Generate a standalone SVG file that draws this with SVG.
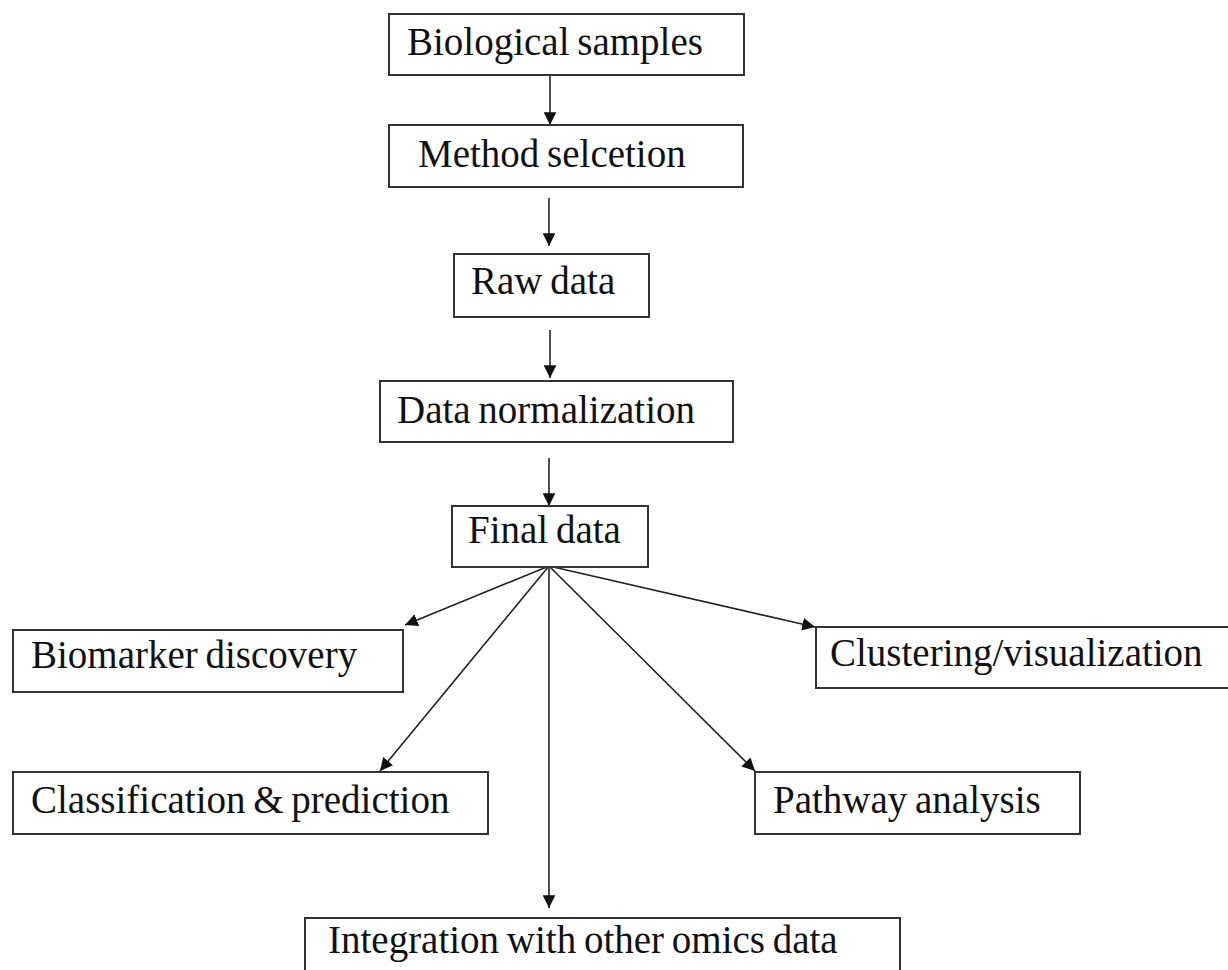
<svg xmlns="http://www.w3.org/2000/svg" width="1228" height="970" viewBox="0 0 1228 970">
<style>
.box{fill:#fff;stroke:#333;stroke-width:2}
.lbl{font-family:'Liberation Serif','Times New Roman','DejaVu Serif',serif;font-size:39px;fill:#111;word-spacing:-2px}
.con{stroke:#222;stroke-width:1.6;fill:none;marker-end:url(#ah)}
</style>
<defs>
<marker id="ah" viewBox="0 0 10 10" refX="10" refY="5" markerWidth="8" markerHeight="8" markerUnits="strokeWidth" orient="auto">
<path d="M0,0 L10,5 L0,10 z" fill="#111"/>
</marker>
</defs>
<rect width="1228" height="970" fill="#fff"/>
<g id="connectors">
<line class="con" x1="550" y1="75" x2="550" y2="125"/>
<line class="con" x1="549" y1="198" x2="549" y2="246"/>
<line class="con" x1="550" y1="330" x2="550" y2="378"/>
<line class="con" x1="549" y1="458" x2="549" y2="506"/>
<line class="con" x1="549" y1="566" x2="405" y2="625"/>
<line class="con" x1="549" y1="566" x2="380" y2="771"/>
<line class="con" x1="549" y1="566" x2="549" y2="908"/>
<line class="con" x1="549" y1="566" x2="755" y2="771"/>
<line class="con" x1="549" y1="566" x2="815" y2="627"/>
</g>
<g id="n-bio">
<rect class="box" x="389" y="14" width="355" height="61"/>
<text class="lbl" x="407" y="55">Biological samples</text>
</g>
<g id="n-method">
<rect class="box" x="389" y="125" width="354" height="62"/>
<text class="lbl" x="418" y="167">Method selcetion</text>
</g>
<g id="n-raw">
<rect class="box" x="454" y="254" width="195" height="63"/>
<text class="lbl" x="471" y="294">Raw data</text>
</g>
<g id="n-norm">
<rect class="box" x="380" y="381" width="353" height="61"/>
<text class="lbl" x="397" y="423">Data normalization</text>
</g>
<g id="n-final">
<rect class="box" x="452" y="506" width="196" height="61"/>
<text class="lbl" x="468" y="543">Final data</text>
</g>
<g id="n-biomarker">
<rect class="box" x="13" y="630" width="390" height="62"/>
<text class="lbl" x="31" y="668">Biomarker discovery</text>
</g>
<g id="n-cluster">
<rect class="box" x="816" y="627" width="420" height="61"/>
<text class="lbl" x="830" y="666">Clustering/visualization</text>
</g>
<g id="n-class">
<rect class="box" x="13" y="772" width="475" height="62"/>
<text class="lbl" x="31" y="813">Classification &amp; prediction</text>
</g>
<g id="n-pathway">
<rect class="box" x="755" y="772" width="325" height="62"/>
<text class="lbl" x="773" y="813">Pathway analysis</text>
</g>
<g id="n-integ">
<rect class="box" x="305" y="918" width="595" height="62"/>
<text class="lbl" x="328" y="953">Integration with other omics data</text>
</g>
</svg>
